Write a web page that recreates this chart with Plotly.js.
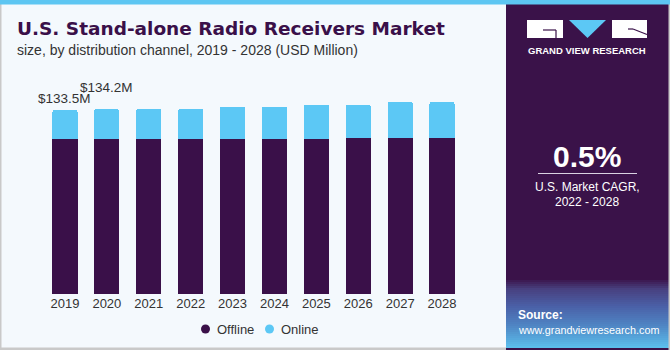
<!DOCTYPE html>
<html>
<head>
<meta charset="utf-8">
<script src="https://cdn.plot.ly/plotly-3.0.1.min.js"></script>
<style>html,body{margin:0;padding:0;background:#f4f9fd;}#chart{width:670px;height:350px;}</style>
</head>
<body>
<div id="chart"></div>
<script>
// ---- data ----
const years = ["2019","2020","2021","2022","2023","2024","2025","2026","2027","2028"];
const offline = [112.6,112.6,112.6,112.7,112.7,112.8,112.9,113.0,113.1,113.2];
const online  = [20.9, 21.6, 21.8, 21.6, 23.3, 23.2, 24.6, 24.5, 26.3, 26.2];
const labelYears = ["2019","2020"];
const labelTexts = ["$133.5M","$134.2M"];
const labelTotals = [133.5, 134.2];
const seriesNames = ["Offline","Online"];

// ---- layout helpers (pixel -> paper) ----
const W = 670, H = 350;
const M = {l:44, r:207, t:95, b:56};
const PW = W - M.l - M.r, PH = H - M.t - M.b;
const px = x => (x - M.l) / PW;
const py = y => (H - M.b - y) / PH;
const C_OFF = '#3a1049', C_ON = '#5cc8f5', PANEL = '#3a1249';

const traces = [
  {type:'bar', name:seriesNames[0], x:years, y:offline, marker:{color:C_OFF}, showlegend:false, hoverinfo:'skip'},
  {type:'bar', name:seriesNames[1], x:years, y:online, marker:{color:C_ON}, showlegend:false, hoverinfo:'skip'}
];

const shapes = [];
function rect(x0,y0,x1,y1,color,extra){shapes.push(Object.assign({type:'rect',xref:'paper',yref:'paper',x0:px(x0),x1:px(x1),y0:py(y1),y1:py(y0),fillcolor:color,line:{width:0},layer:'below'},extra||{}));}
function line(x0,y0,x1,y1,color,w){shapes.push({type:'line',xref:'paper',yref:'paper',x0:px(x0),x1:px(x1),y0:py(y0),y1:py(y1),line:{color:color,width:w}});}
function path(pts,color){let d='M'+pts.map(p=>px(p[0])+','+py(p[1])).join(' L')+' Z';shapes.push({type:'path',xref:'paper',yref:'paper',path:d,fillcolor:color,line:{width:0}});}

// frame
rect(0,0,670,350,'#f4f9fd');
rect(0,0,1.5,350,'#c9c9c9');
rect(0,347.5,670,350,'#c9c9c9');
// right panel
rect(506,4,670,350,PANEL);
// gradient at bottom of panel
function hex(c){return [parseInt(c.slice(1,3),16),parseInt(c.slice(3,5),16),parseInt(c.slice(5,7),16)];}
const gStops = [[278,'#3a1249'],[288,'#48407f'],[305,'#4a5fa6'],[325,'#4f86c4'],[348,'#5cc3ef']];
for(let y=278;y<348;y+=2){
  let i=0; while(i<gStops.length-2 && y>=gStops[i+1][0]) i++;
  const a=gStops[i], b=gStops[i+1]; const t=Math.min(1,Math.max(0,(y-a[0])/(b[0]-a[0])));
  const ca=hex(a[1]), cb=hex(b[1]);
  const c='rgb('+ca.map((v,k)=>Math.round(v+(cb[k]-v)*t)).join(',')+')';
  rect(506,y,670,Math.min(348,y+2.2),c);
}
rect(668.5,4,670,350,'#c9c9c9');
// top band
rect(0,0,670,4.5,'#5dc6f2');
// logo
rect(527,20,563,38,'#ffffff',{layer:'above'});
line(543,30,556,30,PANEL,1.2);
line(556,30,556,38,PANEL,1.2);
path([[569,20],[606,20],[587.5,38]],'#5cc8f5');
rect(612,20,647,38,'#ffffff',{layer:'above'});
line(628,29,633,29,PANEL,1.2);
line(633,29,647,34.5,PANEL,1.2);
// CAGR rule
line(538,173.5,637,173.5,'#d9d2e2',1.2);
// legend circles
shapes.push({type:'circle',xref:'paper',yref:'paper',xsizemode:'pixel',ysizemode:'pixel',xanchor:px(205.5),yanchor:py(329),x0:-4.5,x1:4.5,y0:-4.5,y1:4.5,fillcolor:C_OFF,line:{width:0}});
shapes.push({type:'circle',xref:'paper',yref:'paper',xsizemode:'pixel',ysizemode:'pixel',xanchor:px(269.5),yanchor:py(329),x0:-4.5,x1:4.5,y0:-4.5,y1:4.5,fillcolor:C_ON,line:{width:0}});

const FONT = 'Liberation Sans, Arial, sans-serif';
const ann = [];
function txt(x,y,text,size,color,opts,fam){ann.push(Object.assign({xref:'paper',yref:'paper',x:px(x),y:py(y),text:text,showarrow:false,xanchor:'left',yanchor:'middle',font:{family:fam||FONT,size:size,color:color}},opts||{}));}

txt(15,28.5,'<b>U.S. Stand-alone Radio Receivers Market</b>',18.5,'#3a1049',null,'DejaVu Sans, sans-serif');
txt(15,50,'size, by distribution channel, 2019 - 2028 (USD Million)',14,'#333333');
txt(587,50.5,'<b>GRAND VIEW RESEARCH</b>',9.5,'#ffffff',{xanchor:'center'});
txt(587,156,'<b>0.5%</b>',30,'#ffffff',{xanchor:'center'});
txt(587,187,'U.S. Market CAGR,',12,'#ffffff',{xanchor:'center'});
txt(587,201.5,'2022 - 2028',12,'#ffffff',{xanchor:'center'});
txt(516,315,'<b>Source:</b>',12,'#ffffff');
txt(516,330,'www.grandviewresearch.com',10.8,'#ffffff');
txt(214.5,329,seriesNames[0],13,'#333333');
txt(278.5,329,seriesNames[1],13,'#333333');
// value labels
const shiftsY = [2, 12];
labelYears.forEach((yr,i)=>{
  ann.push({xref:'x',yref:'y',x:years.indexOf(yr),y:labelTotals[i],text:labelTexts[i],showarrow:false,xanchor:'center',yanchor:'bottom',yshift:shiftsY[i],font:{family:FONT,size:13.5,color:'#333333'}});
});

const layout = {
  width:W, height:H,
  margin:{l:M.l, r:M.r, t:M.t, b:M.b, pad:0},
  paper_bgcolor:'#f4f9fd', plot_bgcolor:'rgba(0,0,0,0)',
  barmode:'stack', bargap:0.4, barcornerradius:2,
  showlegend:false,
  xaxis:{type:'category', range:[-0.5,9.5], showgrid:false, zeroline:false, showline:false, ticks:'', tickfont:{family:FONT,size:13,color:'#333333'}, fixedrange:true},
  yaxis:{range:[0,144.5], visible:false, fixedrange:true},
  shapes:shapes, annotations:ann,
  font:{family:FONT}
};
Plotly.newPlot('chart', traces, layout, {displayModeBar:false, staticPlot:true});
</script>
</body>
</html>
